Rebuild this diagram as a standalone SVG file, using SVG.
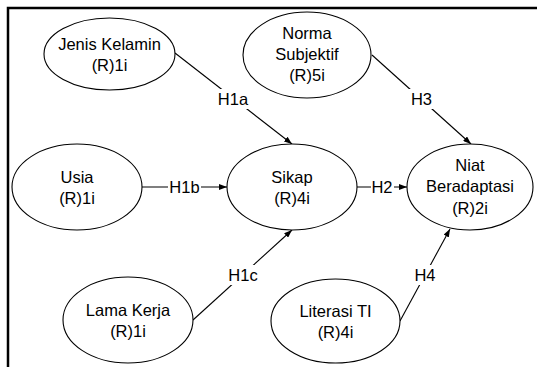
<svg xmlns="http://www.w3.org/2000/svg" width="537" height="367" viewBox="0 0 537 367">
<style>
.node ellipse{fill:#fff;stroke:#000;stroke-width:1.1}
text{font-family:"Liberation Sans",Arial,sans-serif;font-size:16.5px;fill:#000;text-anchor:middle}
.conn line{stroke:#000;stroke-width:1.1;marker-end:url(#arr)}
.lbl rect{fill:#fff}
</style>
<defs>
<marker id="arr" viewBox="0 0 8 6" refX="8" refY="3" markerWidth="8" markerHeight="6" markerUnits="userSpaceOnUse" orient="auto">
<path d="M0,0 L8,3 L0,6 z" fill="#000"/>
</marker>
</defs>
<rect width="537" height="367" fill="#fff"/>
<path d="M8,367 V8 H537" fill="none" stroke="#000" stroke-width="2.5"/>
<g id="connectors" class="conn">
<line x1="175" y1="53" x2="292" y2="144"/>
<line x1="142" y1="187" x2="227" y2="187"/>
<line x1="193" y1="320" x2="292" y2="230"/>
<line x1="357" y1="187" x2="407" y2="187"/>
<line x1="372" y1="55" x2="471" y2="144"/>
<line x1="400" y1="321" x2="450" y2="229"/>
<g class="lbl">
<rect x="216" y="89" width="34" height="20"/>
<text x="233" y="105">H1a</text>
<rect x="168" y="178" width="33" height="18"/>
<text x="184.5" y="193">H1b</text>
<rect x="226" y="265" width="34" height="20"/>
<text x="243" y="281">H1c</text>
<rect x="371" y="178" width="23" height="18"/>
<text x="382" y="193">H2</text>
<rect x="409" y="89" width="25" height="20"/>
<text x="421.5" y="105">H3</text>
<rect x="412" y="265" width="26" height="20"/>
<text x="425" y="281">H4</text>
</g>
</g>
<g id="jenis-kelamin" class="node">
<ellipse cx="109.5" cy="54" rx="65.5" ry="36"/>
<text x="109.5" y="50">Jenis Kelamin</text>
<text x="109.5" y="71">(R)1i</text>
</g>
<g id="norma-subjektif" class="node">
<ellipse cx="307" cy="55" rx="64" ry="43"/>
<text x="307" y="39">Norma</text>
<text x="307" y="60">Subjektif</text>
<text x="307" y="81">(R)5i</text>
</g>
<g id="usia" class="node">
<ellipse cx="77" cy="187" rx="65" ry="43"/>
<text x="77" y="182.5">Usia</text>
<text x="77" y="203.5">(R)1i</text>
</g>
<g id="sikap" class="node">
<ellipse cx="292" cy="187" rx="65" ry="43"/>
<text x="292" y="182.5">Sikap</text>
<text x="292" y="203.5">(R)4i</text>
</g>
<g id="niat-beradaptasi" class="node">
<ellipse cx="470" cy="187" rx="63" ry="43"/>
<text x="470" y="171">Niat</text>
<text x="470" y="192">Beradaptasi</text>
<text x="470" y="214">(R)2i</text>
</g>
<g id="lama-kerja" class="node">
<ellipse cx="128" cy="320" rx="65" ry="43"/>
<text x="128" y="315.5">Lama Kerja</text>
<text x="128" y="336.5">(R)1i</text>
</g>
<g id="literasi-ti" class="node">
<ellipse cx="335.5" cy="321" rx="64.5" ry="42"/>
<text x="335.5" y="316.5">Literasi TI</text>
<text x="335.5" y="337.5">(R)4i</text>
</g>
</svg>
